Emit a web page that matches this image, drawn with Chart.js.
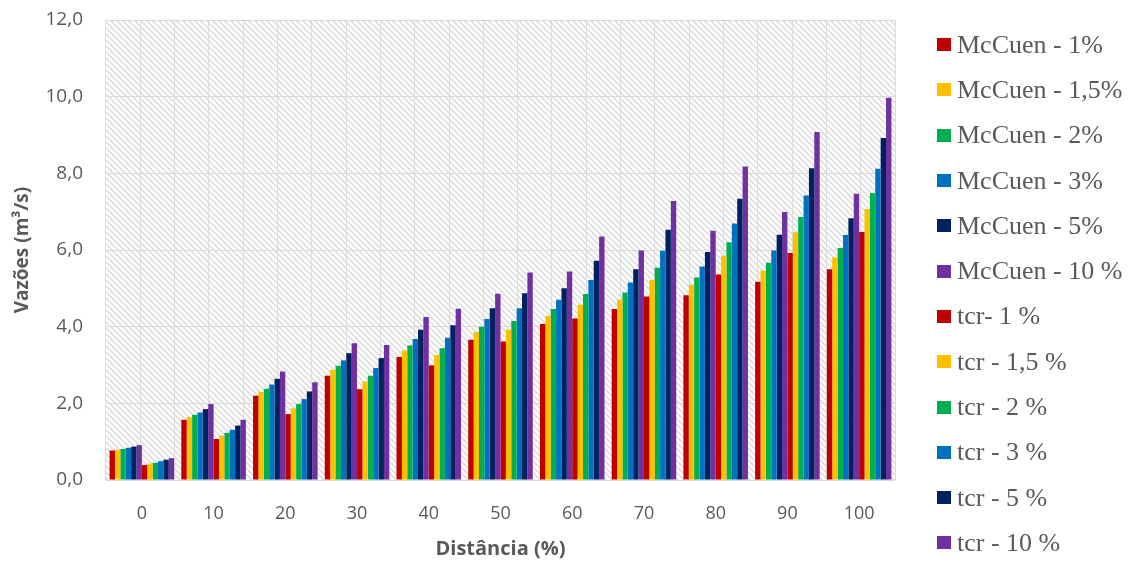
<!DOCTYPE html>
<html lang="pt">
<head>
<meta charset="utf-8">
<title>Vazões por distância</title>
<script src="https://cdn.jsdelivr.net/npm/chart.js@4.4.1/dist/chart.umd.min.js"></script>
<style>
  html, body { margin: 0; padding: 0; background: #fff; }
  #wrap { position: relative; width: 1135px; height: 563px; }
  #chart { position: absolute; left: 0; top: 0; }
  #legend {
    position: absolute; left: 937px; top: 22px; margin: 0; padding: 0; list-style: none;
    font-family: "Liberation Serif", "Times New Roman", serif; font-size: 26px; color: #595959;
  }
  #legend li { display: flex; align-items: center; height: 45.3px; white-space: nowrap; }
  #legend .box { width: 14px; height: 13px; margin-right: 6px; flex: none; }
</style>
</head>
<body>
<div id="wrap">
  <canvas id="chart" width="1135" height="563"></canvas>
  <ul id="legend"></ul>
</div>
<script>
// distância (%) ao longo do trecho
const categories = ['0', '10', '20', '30', '40', '50', '60', '70', '80', '90', '100'];
const yTicks = [0, 2, 4, 6, 8, 10, 12];

// vazões (m³/s) pelo método de McCuen
const mcCuen1 = [0.77, 1.57, 2.20, 2.72, 3.21, 3.66, 4.07, 4.46, 4.82, 5.17, 5.50];
const mcCuen15 = [0.79, 1.64, 2.30, 2.87, 3.38, 3.86, 4.28, 4.71, 5.09, 5.46, 5.81];
const mcCuen2 = [0.81, 1.70, 2.38, 2.98, 3.51, 4.00, 4.46, 4.89, 5.28, 5.67, 6.05];
const mcCuen3 = [0.84, 1.76, 2.49, 3.12, 3.68, 4.20, 4.70, 5.15, 5.57, 5.99, 6.39];
const mcCuen5 = [0.87, 1.85, 2.64, 3.31, 3.92, 4.48, 5.00, 5.50, 5.95, 6.40, 6.83];
const mcCuen10 = [0.91, 1.98, 2.83, 3.57, 4.25, 4.86, 5.44, 5.99, 6.50, 6.99, 7.47];

// vazões (m³/s) com tempo de concentração tcr
const tcr1 = [0.39, 1.07, 1.72, 2.37, 2.99, 3.61, 4.21, 4.79, 5.36, 5.92, 6.47];
const tcr15 = [0.43, 1.16, 1.87, 2.57, 3.26, 3.92, 4.57, 5.22, 5.85, 6.46, 7.07];
const tcr2 = [0.45, 1.23, 1.98, 2.72, 3.44, 4.15, 4.85, 5.54, 6.20, 6.86, 7.49];
const tcr3 = [0.49, 1.31, 2.11, 2.92, 3.71, 4.48, 5.22, 5.98, 6.69, 7.42, 8.12];
const tcr5 = [0.53, 1.42, 2.31, 3.18, 4.04, 4.87, 5.72, 6.53, 7.34, 8.13, 8.92];
const tcr10 = [0.57, 1.57, 2.55, 3.52, 4.47, 5.41, 6.35, 7.28, 8.18, 9.08, 9.97];

const seriesNames = [
  'McCuen - 1%', 'McCuen - 1,5%', 'McCuen - 2%', 'McCuen - 3%', 'McCuen - 5%', 'McCuen - 10 %',
  'tcr- 1 %', 'tcr - 1,5 %', 'tcr - 2 %', 'tcr - 3 %', 'tcr - 5 %', 'tcr - 10 %'
];
const seriesValues = [
  mcCuen1, mcCuen15, mcCuen2, mcCuen3, mcCuen5, mcCuen10,
  tcr1, tcr15, tcr2, tcr3, tcr5, tcr10
];
const palette = ['#C00000', '#FFC000', '#00B050', '#0070C0', '#002060', '#7030A0'];

Chart.defaults.font.family = "'Open Sans', sans-serif";
Chart.defaults.color = '#595959';

function makeHatch() {
  const c = document.createElement('canvas');
  c.width = 6;
  c.height = 6;
  const g = c.getContext('2d');
  g.strokeStyle = '#dedede';
  g.lineWidth = 1.6;
  g.beginPath();
  g.moveTo(-1, -1); g.lineTo(7, 7);
  g.moveTo(-1, 5); g.lineTo(1, 7);
  g.moveTo(5, -1); g.lineTo(7, 1);
  g.stroke();
  return g.createPattern(c, 'repeat');
}
const hatch = makeHatch();

// fundo hachurado da área do gráfico
const plotHatch = {
  id: 'plotHatch',
  beforeDraw(chart) {
    const { ctx, chartArea: a } = chart;
    ctx.save();
    ctx.fillStyle = hatch;
    ctx.fillRect(a.left, a.top, a.right - a.left, a.bottom - a.top);
    ctx.restore();
  }
};

const datasets = seriesNames.map((name, i) => ({
  label: name,
  data: seriesValues[i],
  backgroundColor: palette[i % 6],
  borderWidth: 0,
  xAxisID: 'x',
  yAxisID: 'y',
  categoryPercentage: 0.9,
  barPercentage: 1.0
}));

const chart = new Chart(document.getElementById('chart'), {
  type: 'bar',
  data: { labels: categories, datasets: datasets },
  options: {
    responsive: false,
    animation: false,
    layout: { padding: { top: 20, right: 240, bottom: 0, left: 0 } },
    plugins: {
      legend: { display: false },
      tooltip: { enabled: false }
    },
    scales: {
      x: {
        type: 'category',
        grid: { display: false },
        border: { display: false },
        ticks: { padding: 15, font: { size: 18 }, color: '#595959' },
        title: {
          display: true,
          text: 'Distância (%)',
          font: { size: 20, weight: 'bold' },
          color: '#595959',
          padding: { top: 0, bottom: 2 }
        },
        afterFit(scale) { scale.height = 83; }
      },
      // linhas verticais a cada meia categoria
      xg: {
        type: 'linear',
        position: 'bottom',
        min: -0.5,
        max: 10.5,
        ticks: { display: false, stepSize: 0.5 },
        grid: { color: '#dcdcdc', drawTicks: false },
        border: { display: false },
        afterFit(scale) { scale.height = 0; }
      },
      y: {
        min: 0,
        max: 12,
        afterBuildTicks(scale) { scale.ticks = yTicks.map(v => ({ value: v })); },
        // afastamento dos rótulos feito pelo tickLength (invisível)
        grid: { color: '#d9d9d9', drawTicks: true, tickLength: 23, tickColor: 'rgba(0,0,0,0)' },
        border: { display: false },
        ticks: {
          padding: 0,
          font: { size: 19 },
          color: '#595959',
          callback: v => v.toFixed(1).replace('.', ',')
        },
        title: {
          display: true,
          text: 'Vazões (m³/s)',
          font: { size: 19, weight: 'bold' },
          color: '#595959',
          padding: { top: 11, bottom: 0 }
        },
        afterFit(scale) { scale.width = 106; }
      }
    }
  },
  plugins: [plotHatch]
});

// legenda à direita, montada a partir das séries do gráfico
const legend = document.getElementById('legend');
chart.data.datasets.forEach(ds => {
  const li = document.createElement('li');
  li.innerHTML = `<span class="box" style="background:${ds.backgroundColor}"></span><span>${ds.label}</span>`;
  legend.appendChild(li);
});
</script>
</body>
</html>
